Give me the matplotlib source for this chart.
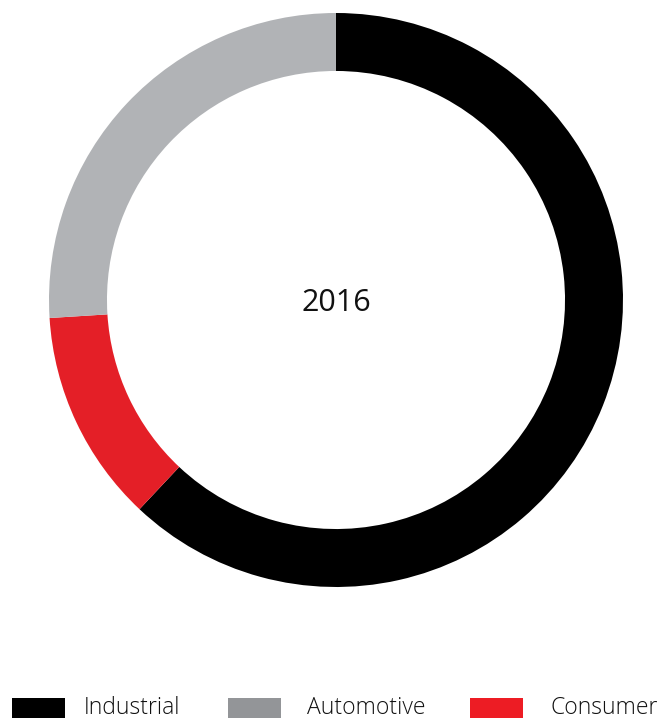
import matplotlib
matplotlib.use("Agg")
import matplotlib.pyplot as plt
from matplotlib.patches import Rectangle

# Data
categories = ["Industrial", "Consumer", "Automotive"]
values = [62, 12, 26]
colors = ["#000000", "#e41f27", "#b1b3b6"]
legend_labels = ["Industrial", "Automotive", "Consumer"]
legend_colors = ["#000000", "#939598", "#ed1c24"]
center_label = "2016"

W, H = 659, 723
fig = plt.figure(figsize=(W / 100, H / 100), dpi=100)
plt.rcParams['font.family'] = ['Open Sans', 'DejaVu Sans']

# Donut axes placed in pixels
cx, cy, R = 336, 300, 287
ax = fig.add_axes([(cx - R) / W, (H - cy - R) / H, 2 * R / W, 2 * R / H])
ax.pie(values, colors=colors, startangle=90, counterclock=False, radius=1.0,
       wedgeprops=dict(width=0.202, edgecolor='none', linewidth=0))
ax.set_xlim(-1, 1)
ax.set_ylim(-1, 1)
ax.set_aspect('equal')
ax.axis('off')
ax.text(0, -0.01, center_label, ha='center', va='center', fontsize=22, color='#111111')

# Legend
patch_x = [12, 228, 470]
text_x = [84, 307, 550]
py0, py1 = 698, 718
for lbl, col, px, tx in zip(legend_labels, legend_colors, patch_x, text_x):
    fig.patches.append(Rectangle((px / W, (H - py1) / H), 53 / W, (py1 - py0) / H,
                                 transform=fig.transFigure, facecolor=col, edgecolor='none'))
    fig.text(tx / W, (H - 708) / H, lbl, ha='left', va='center', fontsize=16.5,
             color='#111111', fontweight='light')

fig.savefig("out.png", dpi=100, facecolor='white')
